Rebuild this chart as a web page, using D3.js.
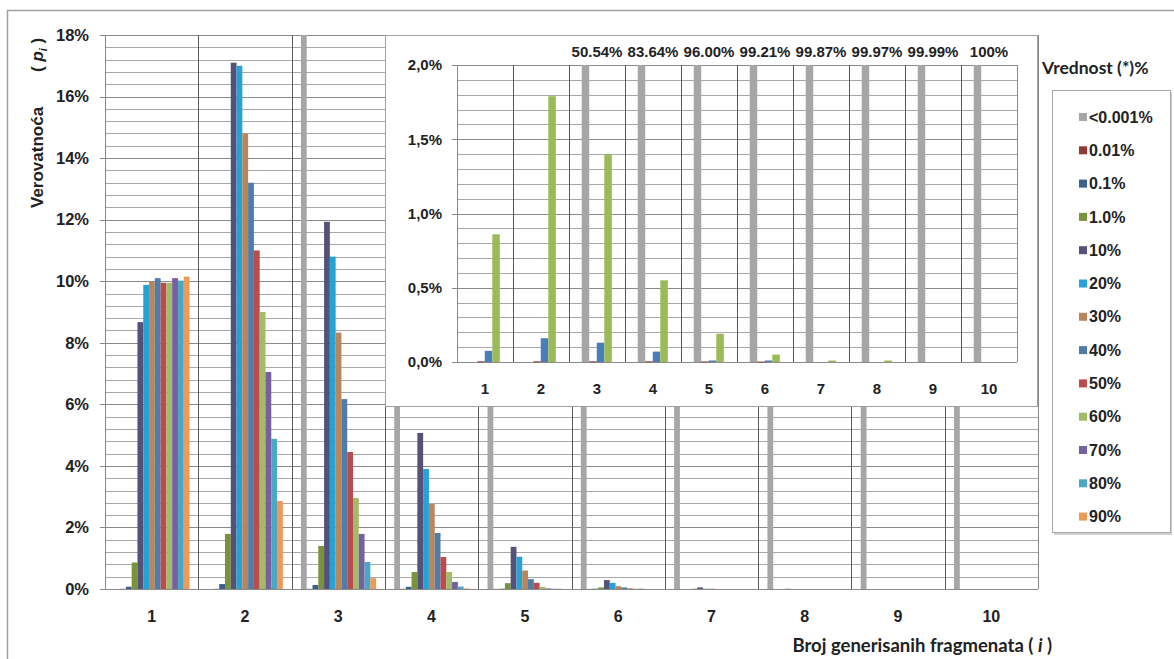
<!DOCTYPE html>
<html><head><meta charset="utf-8">
<script src="https://cdn.jsdelivr.net/npm/d3@7"></script>
<style>body{margin:0;background:#fff}svg{display:block}</style>
</head><body>
<svg id="c" width="1174" height="659"></svg>
<script>
// ---------- DATA ----------
const categories = ["1","2","3","4","5","6","7","8","9","10"];
const seriesNames = ["<0.001%","0.01%","0.1%","1.0%","10%","20%","30%","40%","50%","60%","70%","80%","90%"];
const seriesColors = ["#A6A6A6","#953735","#3C5F8F","#77933C","#55527A","#27A2D6","#B8865A","#4F7CA8","#BC4B4B","#A3BB68","#7560A0","#4AA8C4","#EC9A55"];
const sLt0001 = [0,0,50.54,83.64,96.00,99.21,99.87,99.97,99.99,100];
const s001 = [0.005,0.005,0.005,0.005,0.004,0.003,0,0,0,0];
const s01  = [0.075,0.16,0.13,0.07,0.01,0.01,0,0,0,0];
const s1   = [0.86,1.79,1.40,0.55,0.19,0.05,0.01,0.01,0,0];
const s10  = [8.67,17.1,11.93,5.07,1.37,0.29,0.05,0,0,0];
const s20  = [9.88,17.0,10.8,3.9,1.05,0.2,0.01,0,0,0];
const s30  = [9.98,14.8,8.33,2.76,0.6,0.09,0.01,0,0,0];
const s40  = [10.1,13.2,6.17,1.82,0.32,0.05,0,0,0,0];
const s50  = [9.95,11.0,4.45,1.04,0.2,0.02,0,0,0,0];
const s60  = [9.95,9.0,2.96,0.55,0.07,0.01,0,0,0,0];
const s70  = [10.1,7.05,1.79,0.23,0.02,0.01,0,0,0,0];
const s80  = [10.02,4.88,0.88,0.08,0.01,0,0,0,0,0];
const s90  = [10.15,2.86,0.35,0.02,0.01,0,0,0,0,0];
const mainSeries = [sLt0001,s001,s01,s1,s10,s20,s30,s40,s50,s60,s70,s80,s90];
const mainTicks = [0,2,4,6,8,10,12,14,16,18];

const insetNames = ["<0.001%","0.01%","0.1%","1.0%"];
const insetColors = ["#A6A6A6","#A04545","#4A7DBA","#9BBB59"];
const insetSeries = [sLt0001,s001,s01,s1];
const insetTicks = [0,0.5,1.0,1.5,2.0];

const yTitle = "Verovatnoća";
const xTitle = "Broj generisanih fragmenata";
const legendTitle = "Vrednost (*)%";

// ---------- DRAW ----------
const svg = d3.select("#c");
const AR = "'Liberation Sans', Arial, sans-serif";
const CAL = "Lato, 'Open Sans', sans-serif";

svg.append("rect").attr("x",7.5).attr("y",10.5).attr("width",1200).attr("height",700)
  .attr("fill","#fff").attr("stroke","#a0a0a0").attr("stroke-width",1.5);

// main plot
const M = {l:105, r:1038, t:35, b:589};
const x0 = d3.scaleBand().domain(categories).range([M.l,M.r]).padding(0);
const bw = x0.bandwidth();
const x1 = d3.scaleBand().domain(seriesNames).range([bw*0.1, bw*0.906]).padding(0);
const y = d3.scaleLinear().domain([0,18]).range([M.b,M.t]);

const g = svg.append("g");
g.append("g").selectAll("line").data(d3.range(0,18.0001,0.4)).join("line")
  .attr("x1",M.l).attr("x2",M.r).attr("y1",d=>Math.round(y(d))+0.5).attr("y2",d=>Math.round(y(d))+0.5)
  .attr("stroke","#a8a8a8").attr("stroke-width",1);
g.append("g").selectAll("line").data(mainTicks).join("line")
  .attr("x1",M.l-5).attr("x2",M.r).attr("y1",d=>Math.round(y(d))+0.5).attr("y2",d=>Math.round(y(d))+0.5)
  .attr("stroke","#8a8a8a").attr("stroke-width",1);
g.append("g").selectAll("line").data(categories.concat(["end"])).join("line")
  .attr("x1",(d,i)=>Math.round(M.l+i*bw)+0.5).attr("x2",(d,i)=>Math.round(M.l+i*bw)+0.5)
  .attr("y1",M.t).attr("y2",M.b)
  .attr("stroke",(d,i)=> (i===0||i===categories.length) ? "#8a8a8a" : "#5a5a5a").attr("stroke-width",1);

const clipTop = y.domain()[1];
seriesNames.forEach((name,si)=>{
  g.append("g").attr("fill",seriesColors[si]).selectAll("rect")
    .data(mainSeries[si].map((v,ci)=>({v,c:categories[ci]})).filter(d=>d.v>0))
    .join("rect")
    .attr("x",d=>x0(d.c)+x1(name)).attr("width",x1.bandwidth())
    .attr("y",d=>y(Math.min(d.v,clipTop))).attr("height",d=>y(0)-y(Math.min(d.v,clipTop)));
});
g.append("line").attr("x1",M.l).attr("x2",M.r).attr("y1",M.b+0.5).attr("y2",M.b+0.5).attr("stroke","#8a8a8a");

g.append("g").selectAll("text").data(mainTicks).join("text")
  .attr("x",89).attr("y",d=>y(d)).attr("dy","0.35em").attr("text-anchor","end")
  .attr("font-family",AR).attr("font-weight","bold").attr("font-size",16.5).attr("fill","#222")
  .text(d=>d+"%");
g.append("g").selectAll("text").data(categories).join("text")
  .attr("x",d=>x0(d)+bw/2).attr("y",622).attr("text-anchor","middle")
  .attr("font-family",AR).attr("font-weight","bold").attr("font-size",16).attr("fill","#222")
  .text(d=>d);

const yt = svg.append("text").attr("transform","translate(43,208) rotate(-90)")
  .attr("font-family",AR).attr("font-weight","bold").attr("font-size",17).attr("fill","#222");
yt.text(yTitle);
const yt2 = svg.append("text").attr("transform","translate(43,72) rotate(-90)")
  .attr("font-family",AR).attr("font-weight","bold").attr("font-size",17).attr("fill","#222");
yt2.append("tspan").text("( ");
yt2.append("tspan").attr("font-style","italic").text("p");
yt2.append("tspan").attr("font-style","italic").attr("font-size",11).attr("dy",4).text("i");
yt2.append("tspan").attr("dy",-4).text(" )");

const xt = svg.append("text").attr("x",1052).attr("y",652).attr("text-anchor","end")
  .attr("font-family",CAL).attr("font-weight","bold").attr("font-size",18.5).attr("fill","#222");
xt.append("tspan").text(xTitle+" ( ");
xt.append("tspan").attr("font-style","italic").text("i");
xt.append("tspan").text(" )");

// ---------- INSET ----------
svg.append("rect").attr("x",385.5).attr("y",35.5).attr("width",652).attr("height",371)
  .attr("fill","#fff").attr("stroke","#a0a0a0");
const I = {l:457, r:1017, t:65, b:362};
const ix0 = d3.scaleBand().domain(categories).range([I.l,I.r]).padding(0);
const ibw = ix0.bandwidth();
const ix1 = d3.scaleBand().domain(insetNames).range([ibw*0.227, ibw*0.765]).padding(0);
const iy = d3.scaleLinear().domain([0,2]).range([I.b,I.t]);
const ig = svg.append("g");
ig.append("g").selectAll("line").data(d3.range(0,2.0001,0.1)).join("line")
  .attr("x1",I.l).attr("x2",I.r).attr("y1",d=>Math.round(iy(d))+0.5).attr("y2",d=>Math.round(iy(d))+0.5)
  .attr("stroke","#a8a8a8");
ig.append("g").selectAll("line").data(insetTicks).join("line")
  .attr("x1",I.l-5).attr("x2",I.r).attr("y1",d=>Math.round(iy(d))+0.5).attr("y2",d=>Math.round(iy(d))+0.5)
  .attr("stroke","#8a8a8a");
ig.append("g").selectAll("line").data(categories.concat(["end"])).join("line")
  .attr("x1",(d,i)=>Math.round(I.l+i*ibw)+0.5).attr("x2",(d,i)=>Math.round(I.l+i*ibw)+0.5)
  .attr("y1",I.t).attr("y2",I.b)
  .attr("stroke",(d,i)=> (i===0||i===categories.length) ? "#8a8a8a" : "#555").attr("stroke-width",1);
const iclip = iy.domain()[1];
insetNames.forEach((name,si)=>{
  ig.append("g").attr("fill",insetColors[si]).selectAll("rect")
    .data(insetSeries[si].map((v,ci)=>({v,c:categories[ci]})).filter(d=>d.v>0))
    .join("rect")
    .attr("x",d=>ix0(d.c)+ix1(name)).attr("width",ix1.bandwidth())
    .attr("y",d=>iy(Math.min(d.v,iclip))).attr("height",d=>Math.max(1,iy(0)-iy(Math.min(d.v,iclip))));
});
const fmtComma = v => d3.format(".1f")(v).replace(".",",")+"%";
ig.append("g").selectAll("text").data(insetTicks).join("text")
  .attr("x",442).attr("y",d=>iy(d)).attr("dy","0.35em").attr("text-anchor","end")
  .attr("font-family",AR).attr("font-weight","bold").attr("font-size",15).attr("fill","#222")
  .text(fmtComma);
ig.append("g").selectAll("text").data(categories).join("text")
  .attr("x",d=>ix0(d)+ibw/2).attr("y",394).attr("text-anchor","middle")
  .attr("font-family",AR).attr("font-weight","bold").attr("font-size",15).attr("fill","#222")
  .text(d=>d);
ig.append("g").selectAll("text")
  .data(sLt0001.map((v,ci)=>({v,c:categories[ci]})).filter(d=>d.v>iclip)).join("text")
  .attr("x",d=>ix0(d.c)+ibw/2).attr("y",57).attr("text-anchor","middle")
  .attr("font-family",AR).attr("font-weight","bold").attr("font-size",15).attr("fill","#222")
  .text(d=> d.v===100 ? "100%" : d.v.toFixed(2)+"%");

// ---------- LEGEND ----------
svg.append("text").attr("x",1042).attr("y",74).attr("font-family",CAL).attr("font-weight","bold")
  .attr("font-size",17.5).attr("fill","#222").text(legendTitle);
svg.append("rect").attr("x",1054).attr("y",92).attr("width",118).attr("height",443).attr("fill","#d0d0d0");
svg.append("rect").attr("x",1052.5).attr("y",90.5).attr("width",118).attr("height",442)
  .attr("fill","#fff").attr("stroke","#a8a8a8");
const lg = svg.append("g").selectAll("g").data(seriesNames).join("g")
  .attr("transform",(d,i)=>`translate(1079,${117+i*33.3})`);
lg.append("rect").attr("x",0).attr("y",-4).attr("width",8).attr("height",8).attr("fill",(d,i)=>seriesColors[i]);
lg.append("text").attr("x",10).attr("y",0).attr("dy","0.35em")
  .attr("font-family",AR).attr("font-weight","bold").attr("font-size",16).attr("fill","#222").text(d=>d);
</script>
</body></html>
